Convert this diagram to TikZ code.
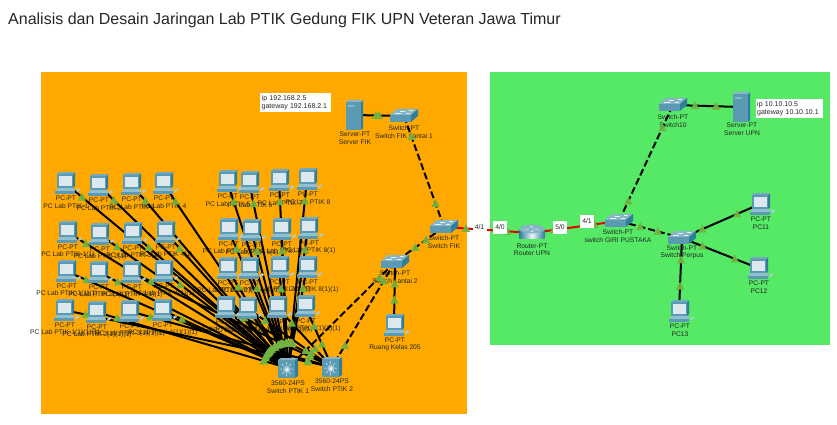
\documentclass[tikz,border=0pt]{standalone}
\usepackage{fontspec}
\setmainfont{Liberation Sans}
\usetikzlibrary{calc}
\definecolor{areaO}{HTML}{FFA900}
\definecolor{areaG}{HTML}{55E966}
\definecolor{tealF}{HTML}{5A9AB3}
\definecolor{tealS}{HTML}{2F7F9B}
\definecolor{tealT}{HTML}{86B5C5}
\definecolor{tealB}{HTML}{93C0CE}
\definecolor{scr}{HTML}{DCE8EE}
\definecolor{tri}{HTML}{72B443}
\tikzset{
  x=1pt,y=-1pt,
  lab/.style={font=\fontsize{6.7}{7}\selectfont,text=black!85,inner sep=0pt,anchor=center},
  anchorpt/.style={inner sep=0pt,minimum size=0pt},
  wire/.style={line width=2pt,black},
  dashwire/.style={line width=2pt,black,dash pattern=on 7pt off 3pt},
  redwire/.style={line width=2pt,red!90!black},
  tribox/.style={fill=white,inner sep=0pt,minimum width=14pt,minimum height=13pt,font=\fontsize{6.8}{7}\selectfont,text=black!85},
  infobox/.style={fill=white,inner sep=0pt,anchor=north west,align=left,font=\fontsize{7}{8}\selectfont,text=black!85},
  pcicon/.pic={
    \fill[tealS] (7,-10)--(9,-12)--(9,2)--(7,4)--cycle;
    \fill[tealF!85!white] (-9,-10)--(-7,-12)--(9,-12)--(7,-10)--cycle;
    \fill[tealF] (-9,-10) rectangle (7,4);
    \fill[scr] (-7.5,-8.5) rectangle (5.5,2);
    \fill[tealB] (-8,4)--(8,4)--(9,7)--(-11,7)--cycle;
    \fill[tealF] (-11,7) rectangle (9,9.5);
    \fill[tealB!80!white] (10,6)--(13,4)--(14,6)--(11,8)--cycle;
  },
  swicon/.pic={
    \fill[tealT] (-14,-1)--(-7,-7)--(14,-7)--(7,-1)--cycle;
    \draw[white!80!tealT,line width=.4pt] (-9,-3)--(-3,-3) (-4,-5)--(1,-5) (2,-3)--(6,-3) (5,-5.5)--(9,-5.5);
    \fill[tealF] (-14,-1) rectangle (7,6);
    \fill[tealS] (7,-1)--(14,-7)--(14,0)--(7,6)--cycle;
  },
  srvicon/.pic={
    \fill[tealF] (-8,-13) rectangle (7,15);
    \fill[tealS] (7,-13)--(9,-15)--(9,13)--(7,15)--cycle;
    \fill[tealT] (-8,-13)--(-6,-15)--(9,-15)--(7,-13)--cycle;
    \fill[tealT] (-6,-10) rectangle (1,-8);
  },
  rticon/.pic={
    \shade[left color=tealS,right color=tealS,middle color=white!85!tealT] (-12.5,-4) rectangle (12.5,5);
    \shade[left color=tealS,right color=tealS,middle color=white!85!tealT] (-12.5,5) arc[start angle=180,end angle=360,x radius=12.5,y radius=3.5]--cycle;
    \fill[tealT] (0,-4) ellipse[x radius=12.5,y radius=4.5];
    \draw[white,line width=.5pt] (-7,-4)--(-3,-4) (3,-4)--(7,-4) (-2,-7)--(1,-5.5) (2,-2.5)--(-1,-1.2);
  },
  mlsicon/.pic={
    \fill[tealF] (-10,-8) rectangle (7,10);
    \fill[tealS] (7,-8)--(10,-10)--(10,8)--(7,10)--cycle;
    \fill[tealT] (-10,-8)--(-7,-10)--(10,-10)--(7,-8)--cycle;
    \draw[white!85!tealT,line width=.5pt] (-8,1)--(5,1) (-1.5,-6)--(-1.5,8) (-6,-4)--(3,6) (3,-4)--(-6,6);
    \shade[inner color=white,outer color=tealF] (-1.5,1) circle (4.5);
  },
}
\newcommand\devnode[7]{% name x y label-x-offset dy1 text1 text2 (second label 8 pt lower)
  \node[anchorpt] (#1) at (#2,#3) {};
  \node[lab] at ([shift={(#4,#5)}]#1) {#6};
  \node[lab] at ([shift={(#4,#5+7.7)}]#1) {#7};
}
\newcommand\pcnode[4]{\devnode{#1}{#2}{#3}{1}{15}{PC-PT}{#4}}
\newcommand\conn[3][wire]{\draw[#1] (#2) -- (#3);}
\newcommand\trimark[3]{\fill[tri,opacity=.95] ($(#1)!#3pt!(#2)$) ++(-4.2,3.5) -- ++(8.4,0) -- ++(-4.2,-8) -- cycle;}
\newcommand\linklights[2]{\trimark{#1}{#2}{22}\trimark{#2}{#1}{25}}
\begin{document}
\begin{tikzpicture}
\useasboundingbox (0,0) rectangle (837,425);
\fill[white] (0,0) rectangle (837,425);
\fill[areaO] (41,72) rectangle (466.5,414);
\fill[areaG] (490,72) rectangle (830,345);
\node[anchor=west,inner sep=0pt,font=\fontsize{16}{18}\selectfont,text=black!85] (title) at (8,20) {Analisis dan Desain Jaringan Lab PTIK Gedung FIK UPN Veteran Jawa Timur};
% PCs, left block
\pcnode{a1}{65}{183}{PC Lab PTIK-1}
\pcnode{a2}{98}{185}{PC Lab PTIK 2}
\pcnode{a3}{131}{184}{PC Lab PTIK-3}
\pcnode{a4}{163}{183}{PC Lab PTIK 4}
\pcnode{b1}{67}{232}{PC Lab PTIK-1(1)}
\pcnode{b2}{99}{234}{PC Lab PTIK 2(1)}
\pcnode{b3}{132}{233}{PC Lab PTIK-3(1)}
\pcnode{b4}{165}{232}{PC Lab PTIK 4(1)}
\pcnode{c1}{66}{271}{PC Lab PTIK-1(1)(1)}
\pcnode{c2}{98}{272}{PC Lab PTIK 2(1)(1)}
\pcnode{c3}{131}{272}{PC Lab PTIK-3(1)(1)}
\pcnode{c4}{163}{271}{PC Lab PTIK 4(1)(1)}
\pcnode{d1}{64}{310}{PC Lab PTIK-1(1)(1)(1)}
\pcnode{d2}{96}{312}{PC Lab PTIK 2(1)(1)(1)}
\pcnode{d3}{129}{311}{PC Lab PTIK-3(1)(1)(1)}
\pcnode{d4}{162}{310}{PC Lab PTIK 4(1)(1)(1)}
% PCs, right block
\pcnode{e1}{227}{181}{PC Lab PTIK 5}
\pcnode{e2}{249}{182}{PC Lab PTIK 6}
\pcnode{e3}{279}{180}{PC Lab PTIK 7}
\pcnode{e4}{307}{179}{PC Lab PTIK 8}
\pcnode{f1}{228}{229}{PC Lab PTIK 5(1)}
\pcnode{f2}{251}{230}{PC Lab PTIK 6(1)}
\pcnode{f3}{281}{229}{PC Lab PTIK 7(1)}
\pcnode{f4}{308}{228}{PC Lab PTIK 8(1)}
\pcnode{g1}{227}{268}{PC Lab PTIK 5(1)(1)}
\pcnode{g2}{249}{268}{PC Lab PTIK 6(1)(1)}
\pcnode{g3}{279}{267}{PC Lab PTIK 7(1)(1)}
\pcnode{g4}{307}{267}{PC Lab PTIK 8(1)(1)}
\pcnode{h1}{225}{307}{PC Lab PTIK 5(1)(1)(1)}
\pcnode{h2}{247}{308}{PC Lab PTIK 6(1)(1)(1)}
\pcnode{h3}{277}{307}{PC Lab PTIK 7(1)(1)(1)}
\pcnode{h4}{305}{306}{PC Lab PTIK 8(1)(1)(1)}
% Other devices
\devnode{sa}{288}{368}{0}{15}{3560-24PS}{Switch PTIK 1}
\devnode{sb}{332}{367}{0}{14.5}{3560-24PS}{Switch PTIK 2}
\devnode{srvfik}{354}{115}{1}{19}{Server-PT}{Server FIK}
\devnode{swl1}{404}{116}{0}{12}{Switch-PT}{Switch FIK Lantai 1}
\devnode{swfik}{444}{227}{0}{11}{Switch-PT}{Switch FIK}
\devnode{swl2}{395}{262}{0}{11}{Switch-PT}{Switch Lantai 2}
\pcnode{rk}{394}{325}{Ruang Kelas 205}
\devnode{rt}{532}{233}{0}{13}{Router-PT}{Router UPN}
\devnode{giri}{619}{221}{-1}{11}{Switch-PT}{switch GIRI PUSTAKA}
\devnode{perpus}{682}{238}{0}{10.5}{Switch-PT}{Switch Perpus}
\devnode{sw10}{673}{105}{0}{12}{Switch-PT}{Switch10}
\devnode{srvupn}{741}{107}{1}{18}{Server-PT}{Server UPN}
\pcnode{pca}{760}{204}{PC11}
\pcnode{pcb}{758}{268}{PC12}
\pcnode{pcc}{679}{311}{PC13}
% Links
\foreach \p in {a1,a2,a3,a4,b1,b2,b3,b4,c1,c2,c4,d2,d4,e1,e2,e3,e4,f1,f2,f3,f4,g1,g2,g3,g4}{\conn{\p}{sa}}
\foreach \p in {c3,d1,d3,h1,h2,h3,h4}{\conn{\p}{sb}}
\conn{srvfik}{swl1}
\conn[dashwire]{swl1}{swfik}
\conn[dashwire]{swfik}{swl2}
\conn[dashwire]{swl2}{sa}
\conn[dashwire]{swl2}{sb}
\conn{swl2}{rk}
\conn[redwire]{swfik}{rt}
\conn[redwire]{rt}{giri}
\conn[dashwire]{giri}{sw10}
\conn[dashwire]{giri}{perpus}
\conn{sw10}{srvupn}
\conn{perpus}{pca}
\conn{perpus}{pcb}
\conn{perpus}{pcc}
% Link lights
\foreach \p in {a1,a2,a3,a4,b1,b2,b3,b4,c1,c2,c4,d2,d4,e1,e2,e3,e4,f1,f2,f3,f4,g1,g2,g3,g4}{\linklights{\p}{sa}}
\foreach \p in {c3,d1,d3,h1,h2,h3,h4}{\linklights{\p}{sb}}
\linklights{srvfik}{swl1}
\linklights{swl1}{swfik}
\linklights{swfik}{swl2}
\linklights{swl2}{sa}
\linklights{swl2}{sb}
\linklights{swl2}{rk}
\linklights{swfik}{rt}
\linklights{rt}{giri}
\linklights{giri}{sw10}
\linklights{giri}{perpus}
\linklights{sw10}{srvupn}
\linklights{perpus}{pca}
\linklights{perpus}{pcb}
\linklights{perpus}{pcc}
% Icons
\foreach \p in {a1,a2,a3,a4,b1,b2,b3,b4,c1,c2,c3,c4,d1,d2,d3,d4,e1,e2,e3,e4,f1,f2,f3,f4,g1,g2,g3,g4,h1,h2,h3,h4,rk,pca,pcb,pcc}{\pic at ([shift={(1,1)}]\p) {pcicon};}
\foreach \p in {swl1,swfik,swl2,giri,perpus,sw10}{\pic at (\p) {swicon};}
\foreach \p in {srvfik,srvupn}{\pic at (\p) {srvicon};}
\pic at (rt) {rticon};
\foreach \p in {sa,sb}{\pic at (\p) {mlsicon};}
% Port labels and info boxes
\node[tribox] (p1) at (479.5,227) {4/1};
\node[tribox] (p2) at (500,227) {4/0};
\node[tribox] (p3) at (560,227) {5/0};
\node[tribox] (p4) at (587,221) {4/1};
\node[infobox,minimum width=71pt,minimum height=19pt,text width=68pt,inner xsep=1.5pt] (ipfik) at (260,93) {ip 192.168.2.5\\gateway 192.168.2.1};
\node[infobox,minimum width=67pt,minimum height=19pt,text width=65pt,inner xsep=1pt] (ipupn) at (756,99) {ip 10.10.10.5\\gateway 10.10.10.1};
\end{tikzpicture}
\end{document}
